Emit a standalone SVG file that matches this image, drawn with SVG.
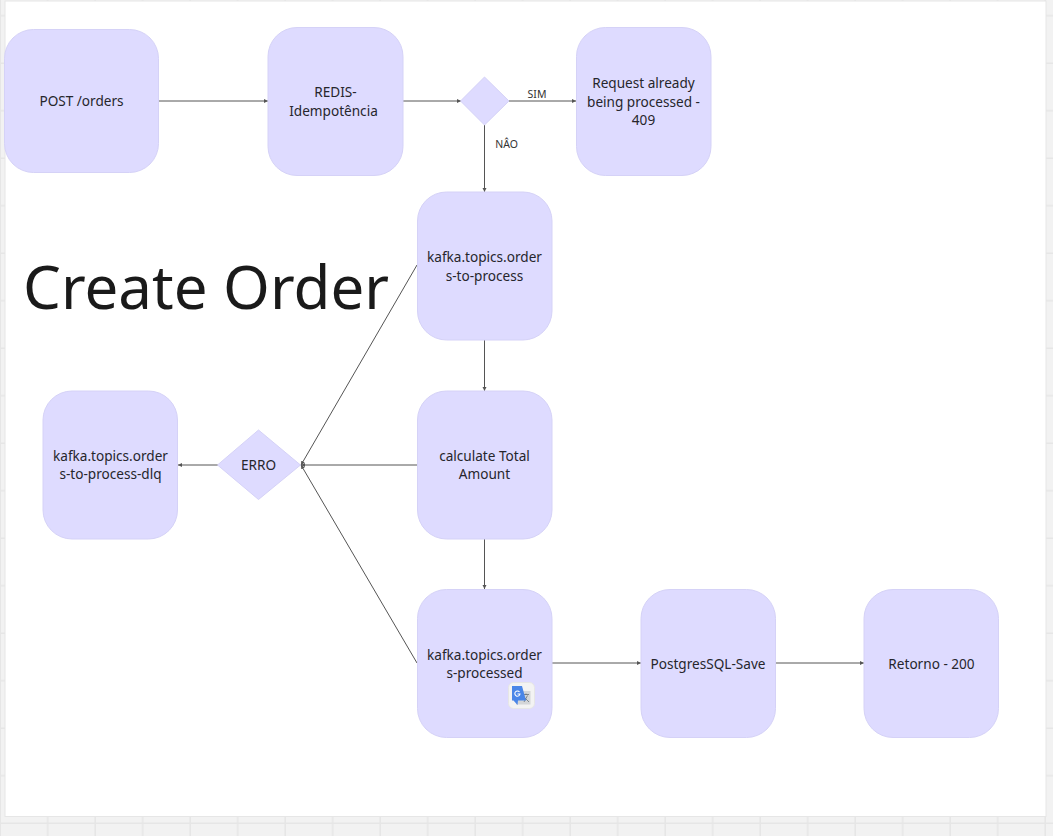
<svg xmlns="http://www.w3.org/2000/svg" width="1053" height="836" viewBox="0 0 1053 836">
<defs>
<pattern id="grid" width="47.5" height="47.5" patternUnits="userSpaceOnUse" x="1" y="16.5"><rect width="47.5" height="47.5" fill="#f2f2f2"/><path d="M46.750 0V47.5M0 46.750H47.5" stroke="#e6e6e6" stroke-width="1.500" fill="none"/></pattern>
<marker id="arrow" markerWidth="5" markerHeight="5" refX="4" refY="2" orient="auto" markerUnits="userSpaceOnUse"><path d="M0 0L4 2L0 4Z" fill="#555"/></marker>
</defs>
<style>
.n{fill:#dedbff;stroke:#d5d2f7;stroke-width:1}
text{font-family:"Noto Sans","Open Sans","DejaVu Sans",sans-serif;fill:#26262c;font-size:13.6px;text-anchor:middle}
.c{stroke:#555;stroke-width:1;fill:none;marker-end:url(#arrow)}
.l{font-size:10.500px;fill:#333}
.t{font-size:60px;fill:#1a1a1a}
</style>
<rect width="1053" height="836" fill="url(#grid)"/>
<rect x="5" y="1" width="1041" height="815.500" fill="#fff" stroke="#e6e6e6" stroke-width="1"/>
<g id="connectors">
<path class="c" d="M159 101H268"/>
<path class="c" d="M403 101H461"/>
<path class="c" d="M509 101H576"/>
<path class="c" d="M484.500 125V192"/>
<path class="c" d="M484.500 340V391"/>
<path class="c" d="M484.500 539V589"/>
<path class="c" d="M552 663H641"/>
<path class="c" d="M776 663H864"/>
<path class="c" d="M417 265L301 465"/>
<path class="c" d="M417 465H301"/>
<path class="c" d="M417 663L301 465"/>
<path class="c" d="M218 465H178"/>
</g>
<g id="label-sim"><text class="l" x="537" y="97.500">SIM</text></g>
<g id="label-nao"><text class="l" x="506.500" y="148">NÂO</text></g>
<g id="title"><text class="t" x="206" y="309">Create Order</text></g>
<g id="post-orders"><rect class="n" x="4.500" y="29.500" width="154" height="143" rx="29"/><text x="81.500" y="106">POST /orders</text></g>
<g id="redis"><rect class="n" x="268" y="27.500" width="135" height="148" rx="29"/><text x="335.500" y="97">REDIS-</text><text x="333.500" y="116">Idempotência</text></g>
<g id="decision"><path class="n" d="M484.500 77L509 101L484.500 125L460.500 101Z"/></g>
<g id="request-processed"><rect class="n" x="576.500" y="27.500" width="134.500" height="148" rx="29"/><text x="643.500" y="88">Request already</text><text x="643.500" y="106.500">being processed -</text><text x="643.500" y="125">409</text></g>
<g id="topic-process"><rect class="n" x="417.500" y="192" width="134.500" height="148" rx="29"/><text x="484.500" y="262">kafka.topics.order</text><text x="484.500" y="281">s-to-process</text></g>
<g id="calculate"><rect class="n" x="417.500" y="391" width="134.500" height="148" rx="29"/><text x="484.500" y="461">calculate Total</text><text x="484.500" y="479">Amount</text></g>
<g id="erro"><path class="n" d="M258.500 430L300.500 465L258.500 499.500L217.500 465Z"/><text x="258.500" y="470">ERRO</text></g>
<g id="topic-dlq"><rect class="n" x="43" y="391" width="134.500" height="148" rx="29"/><text x="110.500" y="461">kafka.topics.order</text><text x="110.500" y="479">s-to-process-dlq</text></g>
<g id="topic-processed"><rect class="n" x="417.500" y="589.500" width="134.500" height="148" rx="29"/><text x="484.500" y="659.500">kafka.topics.order</text><text x="484.500" y="678">s-processed</text></g>
<g id="postgres"><rect class="n" x="641" y="589.500" width="134.500" height="148" rx="29"/><text x="708" y="668.500">PostgresSQL-Save</text></g>
<g id="retorno"><rect class="n" x="864" y="589.500" width="134.500" height="148" rx="29"/><text x="931.500" y="668.500">Retorno - 200</text></g>
<g id="translate-icon">
<rect x="508.500" y="682.500" width="26" height="26" rx="5" fill="#f3f3f3" stroke="#e6e6e6"/>
<path d="M520 691H530.500V704.500H516Z" fill="#d4d6d8"/>
<path d="M523 694.500H529M526 693.500V695M524 702L527.500 695.500M524.500 697.500L529 702" stroke="#6b7278" stroke-width="0.800" fill="none"/>
<path d="M512 686H522L526 700.500H518L517.500 705L513.500 700.500H512Z" fill="#4a86e8"/>
<path d="M519.500 692A2.600 2.600 0 1 0 520 694H517.500" fill="none" stroke="#fff" stroke-width="1.100"/>
</g>
</svg>
